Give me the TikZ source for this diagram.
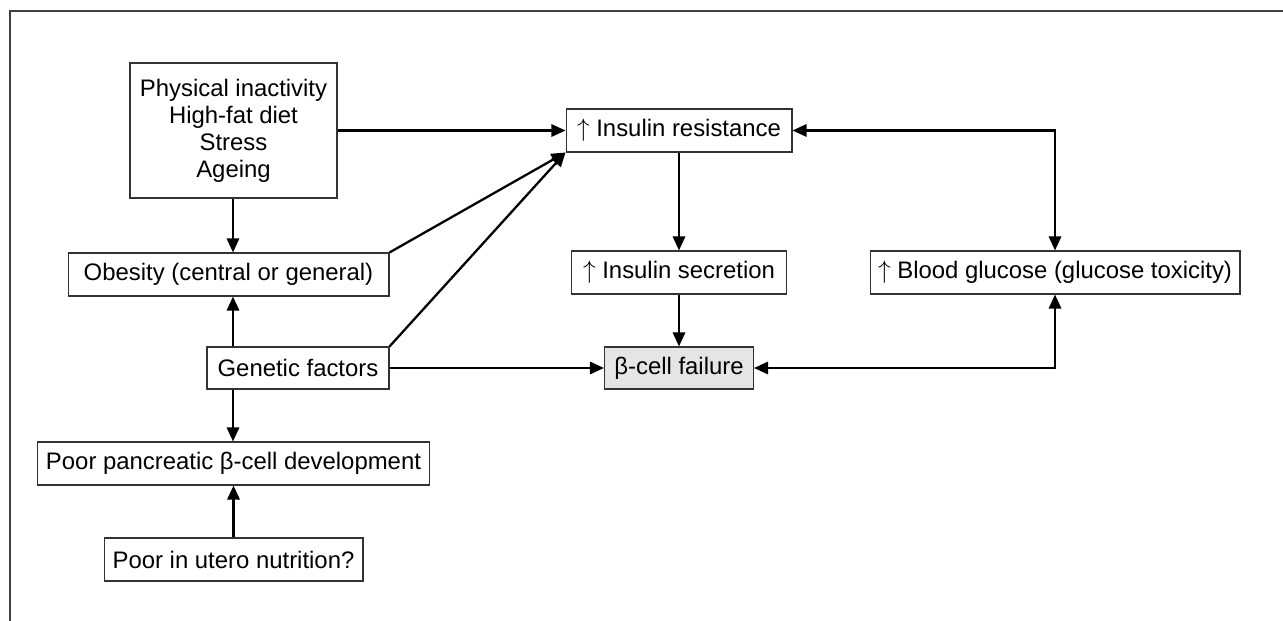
\documentclass[tikz,border=0pt]{standalone}
\usepackage{fontspec}
\setmainfont{Liberation Sans}
\usetikzlibrary{arrows.meta}

\begin{document}
\begin{tikzpicture}[x=0.02cm,y=-0.02cm,
  box/.style={draw=black!80,line width=.6pt,fill=white,inner sep=0pt,
    font=\fontsize{13.6}{15.4}\selectfont,align=center,minimum height=8.6mm},
  link/.style={line width=1.3pt,-{Triangle[length=8pt,width=7pt]}},
  link2/.style={line width=1.3pt,{Triangle[length=8pt,width=7pt]}-{Triangle[length=8pt,width=7pt]}}]
  \useasboundingbox (0,0) rectangle (1283,621);
  \draw[black!75,line width=.6pt] (1283,11) -- (10,11) -- (10,621);
  % boxes
  \node[box,minimum width=41.4mm,minimum height=27mm] (life) at (233.5,130.5)
    {Physical inactivity\\High-fat diet\\Stress\\Ageing};
  \node[box,minimum width=45.2mm] (ir) at (679,130.5) {$\uparrow$ Insulin resistance};
  \node[box,minimum width=43mm] (is) at (679,272.5) {$\uparrow$ Insulin secretion};
  \node[box,minimum width=29.8mm,minimum height=8.4mm,fill=black!10] (bcf) at (679,368) {β-cell failure};
  \node[box,minimum width=74mm] (bg) at (1055,272.5) {$\uparrow$ Blood glucose (glucose toxicity)};
  \node[box,minimum width=64.2mm] (ob) at (228.5,274.5) {Obesity (central or general)};
  \node[box,minimum width=36.4mm,minimum height=8.4mm] (gen) at (298,368) {Genetic factors};
  \node[box,minimum width=78.6mm] (pbc) at (233.5,463.5) {Poor pancreatic β-cell development};
  \node[box,minimum width=51.8mm] (utero) at (233.5,559.5) {Poor in utero nutrition?};
  % arrows
  \draw[link] (life.east |- ir) -- (ir);
  \draw[link] (life.south -| 233,0) -- (ob.north -| 233,0);
  \draw[link] (ob.north east) -- (ir.south west);
  \draw[link] (gen.north east) -- (ir.south west);
  \draw[link] (gen.north -| 233,0) -- (ob.south -| 233,0);
  \draw[link] (gen.south -| 233,0) -- (pbc.north -| 233,0);
  \draw[link] (utero) -- (pbc);
  \draw[link] (gen) -- (bcf);
  \draw[link] (ir) -- (is);
  \draw[link] (is) -- (bcf);
  \draw[link2] (ir) -| (bg);
  \draw[link2] (bcf) -| (bg);
\end{tikzpicture}
\end{document}
